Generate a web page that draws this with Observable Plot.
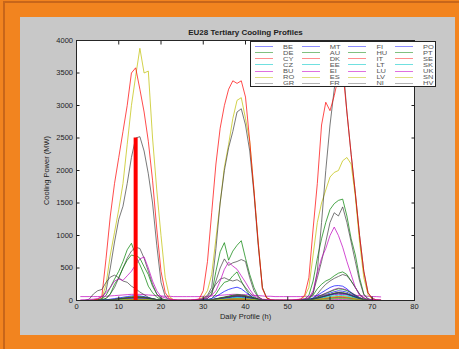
<!DOCTYPE html>
<html><head><meta charset="utf-8">
<script src="https://cdn.jsdelivr.net/npm/d3@7"></script>
<script src="https://cdn.jsdelivr.net/npm/@observablehq/plot@0.6"></script>
<style>
html,body{margin:0;padding:0;}
body{width:459px;height:349px;background:#F2841F;position:relative;overflow:hidden;font-family:"Liberation Sans",Arial,sans-serif;}
#edge{position:absolute;left:3px;top:1px;right:0;bottom:0;border-left:2px solid #c8661a;border-top:2px solid #c8661a;}
#panel{position:absolute;left:20px;top:17px;width:435px;height:318px;background:#c8c8c8;}
#chart{position:absolute;left:0;top:0;}
#legend{position:absolute;left:250px;top:41px;width:186px;height:46px;background:#fff;border:1px solid #222;box-sizing:border-box;}
.ll{position:absolute;height:0;border-top:1.3px solid;}
.lt{position:absolute;font-size:7.5px;line-height:7px;height:7px;color:#555;white-space:nowrap;transform:scaleY(0.8);transform-origin:0 50%;}
</style></head>
<body>
<div id="edge"></div>
<div id="panel"></div>
<div id="chart"></div>
<div id="legend"></div>
<script>
const title = "EU28 Tertiary Cooling Profiles";
const xLabel = "Daily Profile (h)";
const yLabel = "Cooling Power (MW)";
const xTicks = [0,10,20,30,40,50,60,70,80];
const yTicks = [0,500,1000,1500,2000,2500,3000,3500,4000];
const regions = ["BE","DE","CY","CZ","BU","RO","GR","MT","AU","DK","EE","EI","ES","FR","FI","HU","IT","LT","LU","LV","NI","PO","PT","SE","SK","UK","SN","HV"];
const palette = ["#0000ff","#008000","#ff0000","#00bfbf","#bf00bf","#bfbf00","#404040"];
const legendPalette = ["#8c8cff","#80c080","#ff8c8c","#70e0e0","#e070e0","#e0e080","#b4b4b4"];
const barHour = 14;
const barValue = 2500;

// hourly cooling power (MW), hours 1..72
const BE = [0,0,0,0,0,1,3,8,15,23,30,38,45,50,48,43,33,23,13,5,2,0,0,0,
0,0,0,0,0,2,4,12,24,36,48,60,72,80,76,68,52,36,20,8,2,0,0,0,
0,0,0,0,0,3,8,23,45,68,90,113,135,150,143,128,98,68,38,15,5,0,0,0];
const DE = [0,0,0,5,10,20,80,200,330,450,600,780,880,700,650,520,400,220,100,30,10,5,0,0,
0,0,0,5,10,20,30,100,450,750,890,620,760,850,920,650,400,200,60,15,5,0,0,0,
0,0,0,5,10,20,80,300,650,950,1200,1400,1490,1540,1560,1300,950,700,350,100,25,5,0,0];
const CY = [0,0,0,0,0,1,3,8,15,23,30,38,45,50,48,43,33,23,13,5,2,0,0,0,
0,0,0,0,0,1,4,11,21,32,42,53,63,70,67,60,46,32,18,7,2,0,0,0,
0,0,0,0,0,2,6,17,33,50,66,83,99,110,105,94,72,50,28,11,3,0,0,0];
const CZ = [0,0,0,0,0,1,2,5,9,14,18,23,27,30,29,26,20,14,8,3,1,0,0,0,
0,0,0,0,0,1,3,8,15,23,30,38,45,50,48,43,33,23,13,5,2,0,0,0,
0,0,0,0,0,2,5,15,30,45,60,75,90,100,95,85,65,45,25,10,3,0,0,0];
const BU = [60,60,60,60,60,65,65,70,75,80,85,90,95,95,95,90,85,80,75,70,65,65,60,60,
60,60,60,60,60,65,65,70,75,80,85,90,95,95,90,90,85,80,75,70,65,65,60,60,
60,60,60,60,60,65,65,70,75,80,85,90,95,95,90,90,85,80,75,70,65,60,60,55];
const RO = [0,0,0,0,0,1,3,9,18,27,36,45,54,60,57,51,39,27,15,6,2,0,0,0,
0,0,0,0,0,2,4,12,24,36,48,60,72,80,76,68,52,36,20,8,2,0,0,0,
0,0,0,0,0,3,7,20,39,59,78,98,117,130,124,111,85,59,33,13,4,0,0,0];
const GR = [0,0,0,0,5,10,30,100,200,350,500,650,760,820,800,650,450,250,100,30,10,0,0,0,
0,0,0,0,5,10,30,100,300,500,640,540,580,600,630,600,350,150,50,15,5,0,0,0,
0,0,0,0,5,10,30,120,350,600,900,1200,1350,1300,1440,1200,900,600,300,90,25,5,0,0];
const MT = [0,0,0,0,0,0,1,2,5,7,9,11,13,15,14,13,10,7,4,2,0,0,0,0,
0,0,0,0,0,0,1,4,8,11,15,19,22,25,24,21,16,11,6,3,1,0,0,0,
0,0,0,0,0,1,2,6,12,18,24,30,36,40,38,34,26,18,10,4,1,0,0,0];
const AU = [0,0,0,0,0,1,2,6,12,18,24,30,36,40,38,34,26,18,10,4,1,0,0,0,
0,0,0,0,0,1,4,11,21,32,42,53,63,70,67,60,46,32,18,7,2,0,0,0,
0,0,0,0,0,2,6,18,36,54,72,90,108,120,114,102,78,54,30,12,4,0,0,0];
const DK = [0,0,0,0,0,0,1,3,6,9,12,15,18,20,19,17,13,9,5,2,1,0,0,0,
0,0,0,0,0,1,2,5,9,14,18,23,27,30,29,26,20,14,8,3,1,0,0,0,
0,0,0,0,0,1,3,8,15,23,30,38,45,50,48,43,33,23,13,5,2,0,0,0];
const EE = [0,0,0,0,0,0,1,2,3,5,6,8,9,10,10,9,7,5,3,1,0,0,0,0,
0,0,0,0,0,0,1,2,5,7,9,11,13,15,14,13,10,7,4,2,0,0,0,0,
0,0,0,0,0,1,2,5,9,14,18,23,27,30,29,26,20,14,8,3,1,0,0,0];
const EI = [0,0,0,0,0,0,0,1,2,2,3,4,4,5,5,4,3,2,1,1,0,0,0,0,
0,0,0,0,0,0,1,2,3,5,6,8,9,10,10,9,7,5,3,1,0,0,0,0,
0,0,0,0,0,0,1,2,5,7,9,11,13,15,14,13,10,7,4,2,0,0,0,0];
const ES = [0,0,0,5,10,30,250,700,1050,1400,1800,2400,3000,3450,3880,3500,3530,2500,1700,1000,350,60,10,5,
5,5,5,10,20,50,150,400,950,1500,2050,2400,2800,3080,3120,2800,2450,1700,900,200,40,10,5,5,
5,5,5,10,20,60,200,700,1200,1500,1700,1900,1970,2000,2150,2200,2100,1600,900,350,90,20,5,5];
const FR = [0,0,0,5,10,30,150,500,900,1250,1450,1800,2200,2500,2520,2300,1950,1500,850,280,60,15,5,5,
5,5,5,5,10,30,80,200,800,1500,2000,2350,2600,2900,2950,2700,2300,1650,850,200,40,10,5,5,
5,5,5,5,10,20,40,100,450,1200,2000,2700,3250,3800,3700,2900,2250,1650,1000,450,120,30,10,5];
const FI = [0,0,0,0,0,1,2,5,9,14,18,23,27,30,29,26,20,14,8,3,1,0,0,0,
0,0,0,0,0,1,3,9,18,27,36,45,54,60,57,51,39,27,15,6,2,0,0,0,
0,0,0,0,0,2,6,18,36,54,72,90,108,120,114,102,78,54,30,12,4,0,0,0];
const HU = [0,0,0,0,5,10,30,100,250,350,500,620,700,680,550,400,220,120,50,15,5,0,0,0,
0,0,0,0,0,5,10,30,100,200,280,300,380,440,300,180,80,30,10,5,0,0,0,0,
0,0,0,0,5,10,20,80,180,250,300,330,380,420,440,400,300,200,90,30,10,0,0,0];
const IT = [0,0,0,5,20,60,650,1300,1800,2200,2600,3000,3500,3580,3250,2900,2450,1850,1100,450,120,30,10,5,
5,5,5,10,20,150,600,1350,2100,2650,3000,3250,3380,3340,3380,3130,2450,1700,900,180,40,10,5,5,
5,5,5,10,20,80,350,1100,1800,2700,3050,2920,3150,3450,3550,2900,2250,1650,1000,450,120,30,10,5];
const LT = [0,0,0,0,0,0,1,2,3,5,6,8,9,10,10,9,7,5,3,1,0,0,0,0,
0,0,0,0,0,0,1,3,6,9,12,15,18,20,19,17,13,9,5,2,1,0,0,0,
0,0,0,0,0,1,2,6,12,18,24,30,36,40,38,34,26,18,10,4,1,0,0,0];
const LU = [0,0,0,0,0,1,2,6,12,18,24,30,36,40,38,34,26,18,10,4,1,0,0,0,
0,0,0,0,0,2,4,12,24,36,48,60,72,80,76,68,52,36,20,8,2,0,0,0,
0,0,0,0,0,4,10,29,57,86,114,143,171,190,181,162,124,86,48,19,6,0,0,0];
const LV = [0,0,0,0,0,0,1,2,3,5,6,8,9,10,10,9,7,5,3,1,0,0,0,0,
0,0,0,0,0,0,1,2,5,7,9,11,13,15,14,13,10,7,4,2,0,0,0,0,
0,0,0,0,0,1,2,5,9,14,18,23,27,30,29,26,20,14,8,3,1,0,0,0];
const NI = [0,5,20,100,150,170,280,360,390,350,300,280,220,180,130,90,50,20,10,5,0,0,0,0,
0,0,0,0,5,20,60,150,250,330,350,320,300,320,280,200,120,60,20,5,0,0,0,0,
0,0,0,0,5,10,20,30,100,180,250,300,340,370,400,380,300,200,100,40,10,0,0,0];
const PO = [0,0,0,0,0,5,10,20,30,40,50,60,70,75,70,60,45,30,15,5,0,0,0,0,
0,0,0,0,0,5,15,30,60,100,140,170,190,205,180,130,80,40,15,5,0,0,0,0,
0,0,0,0,0,5,15,40,80,120,160,200,225,230,220,180,120,70,30,10,5,0,0,0];
const PT = [0,0,0,0,0,1,3,9,18,27,36,45,54,60,57,51,39,27,15,6,2,0,0,0,
0,0,0,0,0,2,5,14,27,41,54,68,81,90,86,77,59,41,23,9,3,0,0,0,
0,0,0,0,0,4,9,27,54,81,108,135,162,180,171,153,117,81,45,18,5,0,0,0];
const SE = [0,0,0,0,0,0,1,2,5,7,9,11,13,15,14,13,10,7,4,2,0,0,0,0,
0,0,0,0,0,0,1,4,8,11,15,19,22,25,24,21,16,11,6,3,1,0,0,0,
0,0,0,0,0,1,3,9,18,27,36,45,54,60,57,51,39,27,15,6,2,0,0,0];
const SK = [0,0,0,0,0,0,1,4,8,11,15,19,22,25,24,21,16,11,6,3,1,0,0,0,
0,0,0,0,0,1,2,6,12,18,24,30,36,40,38,34,26,18,10,4,1,0,0,0,
0,0,0,0,0,2,4,12,24,36,48,60,72,80,76,68,52,36,20,8,2,0,0,0];
const UK = [10,10,15,20,30,60,120,200,300,330,310,380,450,550,640,670,500,300,150,60,40,20,15,10,
10,10,10,15,20,30,40,80,150,300,480,590,530,480,380,280,170,80,40,20,15,10,10,10,
10,10,10,15,20,30,40,150,420,650,800,1000,1130,1000,820,600,400,200,80,40,20,15,10,10];
const SN = [0,0,0,0,0,0,1,3,6,9,12,15,18,20,19,17,13,9,5,2,1,0,0,0,
0,0,0,0,0,1,2,5,9,14,18,23,27,30,29,26,20,14,8,3,1,0,0,0,
0,0,0,0,0,1,3,9,18,27,36,45,54,60,57,51,39,27,15,6,2,0,0,0];
const HV = [0,0,0,0,0,1,3,8,15,23,30,38,45,50,48,43,33,23,13,5,2,0,0,0,
0,0,0,0,0,1,4,11,21,32,42,53,63,70,67,60,46,32,18,7,2,0,0,0,
0,0,0,0,0,2,6,18,36,54,72,90,108,120,114,102,78,54,30,12,4,0,0,0];

const seriesList = [BE,DE,CY,CZ,BU,RO,GR,MT,AU,DK,EE,EI,ES,FR,FI,HU,IT,LT,LU,LV,NI,PO,PT,SE,SK,UK,SN,HV];
const hours = d3.range(1, 73);
const data = regions.flatMap((r, i) => seriesList[i].map((v, j) => ({region: r, hour: hours[j], value: v, col: palette[i % 7]})));

const chart = Plot.plot({
  width: 459, height: 349,
  marginLeft: 76, marginRight: 45, marginTop: 40, marginBottom: 49,
  style: {background: "transparent", fontFamily: "'Liberation Sans', Arial, sans-serif", fontSize: "7.5px", color: "#222", overflow: "visible"},
  x: {domain: [0, 80]},
  y: {domain: [0, 4000]},
  marks: [
    Plot.frame({fill: "white", stroke: null}),
    Plot.lineY(data, {x: "hour", y: "value", z: "region", stroke: "col", strokeWidth: 1, strokeOpacity: 0.7}),
    Plot.ruleX([{hour: barHour, value: barValue}], {x: "hour", y1: 0, y2: "value", stroke: "#ff0000", strokeWidth: 4}),
    Plot.frame({stroke: "#262626"}),
    Plot.axisX({ticks: xTicks, tickSize: -3.5, tickPadding: 7, tickFormat: "d", label: xLabel, labelAnchor: "center", labelArrow: "none", labelOffset: 18}),
    Plot.axisX({anchor: "top", ticks: xTicks, tickSize: -3.5, tickFormat: () => "", label: null}),
    Plot.axisY({ticks: yTicks, tickSize: -3.5, tickPadding: 7, tickFormat: "d", label: yLabel, labelAnchor: "center", labelArrow: "none", labelOffset: 33}),
    Plot.axisY({anchor: "right", ticks: yTicks, tickSize: -3.5, tickFormat: () => "", label: null}),
    Plot.text([title], {frameAnchor: "top", dy: -11, fontWeight: "bold", fontSize: 8, fill: "#222"})
  ]
});
document.getElementById("chart").appendChild(chart);

const legend = document.getElementById("legend");
regions.forEach((r, i) => {
  const c = Math.floor(i / 7), row = i % 7;
  const y = 3.5 + row * 6.3;
  const line = document.createElement("div");
  line.className = "ll";
  line.style.left = (4 + c * 46.7) + "px";
  line.style.width = "18px";
  line.style.top = y + "px";
  line.style.borderColor = legendPalette[i % 7];
  legend.appendChild(line);
  const t = document.createElement("div");
  t.className = "lt";
  t.textContent = r;
  t.style.left = (32 + c * 46.7) + "px";
  t.style.top = (y - 3) + "px";
  legend.appendChild(t);
});
</script>
</body></html>
